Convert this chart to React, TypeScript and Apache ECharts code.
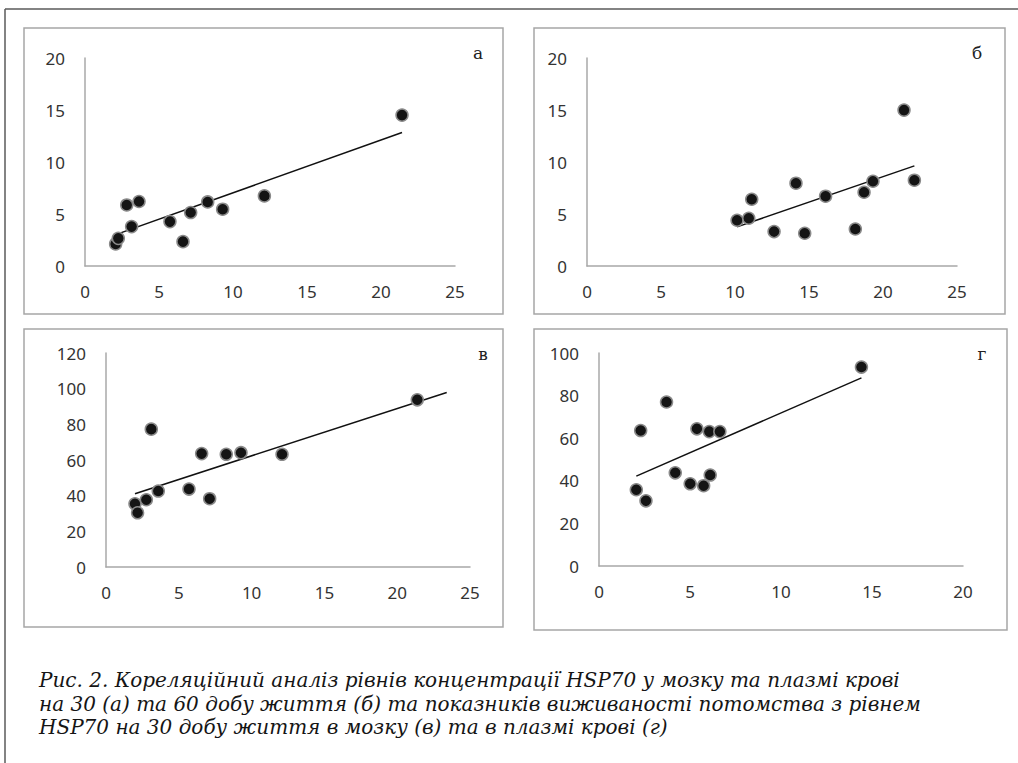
import React, { useEffect, useRef } from "react";
import * as echarts from "echarts";

// Panel а: HSP70 brain vs plasma, 30 days
const aX = [2.07, 2.25, 2.82, 3.15, 3.65, 5.74, 6.62, 7.14, 8.29, 9.3, 12.12, 21.42];
const aY = [2.12, 2.66, 5.87, 3.79, 6.2, 4.27, 2.34, 5.14, 6.16, 5.46, 6.74, 14.51];
const aTrendX = [2.03, 21.42];
const aTrendY = [2.99, 12.84];

// Panel б: 60 days
const bX = [10.14, 10.93, 11.13, 12.64, 14.12, 14.71, 16.12, 18.13, 18.72, 19.32, 21.42, 22.12];
const bY = [4.4, 4.59, 6.42, 3.31, 7.96, 3.15, 6.71, 3.56, 7.09, 8.15, 14.99, 8.25];
const bTrendX = [10.14, 22.12];
const bTrendY = [3.76, 9.63];

// Panel в: survival vs HSP70 brain
const cX = [1.99, 2.17, 2.77, 3.11, 3.59, 5.7, 6.57, 7.12, 8.26, 9.27, 12.09, 21.38];
const cY = [35.4, 30.4, 37.7, 77.3, 42.6, 43.7, 63.6, 38.3, 63.2, 64.1, 63.2, 93.75];
const cTrendX = [1.99, 23.4];
const cTrendY = [41.1, 97.9];

// Panel г: survival vs HSP70 plasma
const dX = [2.05, 2.29, 2.58, 3.71, 4.19, 5.01, 5.38, 5.75, 6.06, 6.11, 6.64, 14.42];
const dY = [35.8, 63.6, 30.6, 77.0, 43.75, 38.6, 64.4, 37.7, 63.1, 42.7, 63.1, 93.4];
const dTrendX = [2.05, 14.42];
const dTrendY = [42.2, 88.3];

const panelLabels = ["а", "б", "в", "г"];
const xMax = [25, 25, 25, 20];
const yMax = [20, 20, 120, 100];
const yStep = [5, 5, 20, 20];

const captionLines = [
  "Рис. 2. Кореляційний аналіз рівнів концентрації HSP70 у мозку та плазмі крові",
  "на 30 (а) та 60 добу життя (б) та показників виживаності потомства з рівнем",
  "HSP70 на 30 добу життя в мозку (в) та в плазмі крові (г)",
];

const zip = (xs: number[], ys: number[]) => xs.map((x, i) => [x, ys[i]]);

export default function App() {
  const ref = useRef<HTMLDivElement>(null);
  useEffect(() => {
    if (!ref.current) return;
    const chart = echarts.init(ref.current, null, { renderer: "svg" });
    const grids = [
      { left: 85, top: 58, width: 370, height: 208 },
      { left: 587, top: 58, width: 370, height: 208 },
      { left: 106, top: 353, width: 364, height: 214 },
      { left: 599, top: 353, width: 364, height: 213 },
    ];
    const boxes = [
      { x: 24, y: 28, w: 479, h: 286 },
      { x: 534, y: 28, w: 471, h: 286 },
      { x: 24, y: 329, w: 479, h: 298 },
      { x: 534, y: 329, w: 473, h: 301 },
    ];
    const labelPos = [
      [478, 53],
      [977, 53],
      [483, 354],
      [982, 354],
    ];
    const pts = [zip(aX, aY), zip(bX, bY), zip(cX, cY), zip(dX, dY)];
    const trends = [zip(aTrendX, aTrendY), zip(bTrendX, bTrendY), zip(cTrendX, cTrendY), zip(dTrendX, dTrendY)];
    const axisLabelStyle = { fontFamily: "Noto Sans", fontSize: 17, color: "#333" };
    const axisLine = { show: true, lineStyle: { color: "#a8a8a8", width: 1.5 } };

    const series: any[] = [];
    pts.forEach((p, i) => {
      series.push({
        type: "line",
        xAxisIndex: i,
        yAxisIndex: i,
        data: trends[i],
        showSymbol: false,
        symbol: "none",
        lineStyle: { color: "#111", width: 1.5 },
        z: 2,
      });
      series.push({
        type: "scatter",
        xAxisIndex: i,
        yAxisIndex: i,
        data: p,
        symbolSize: 12,
        itemStyle: { color: "#141414", borderColor: "#8a8a8a", borderWidth: 1.5, opacity: 1 },
        z: 3,
      });
    });

    const graphic: any[] = [
      { type: "line", shape: { x1: 5, y1: 9, x2: 1018, y2: 9 }, style: { stroke: "#5a5a5a", lineWidth: 1.5 } },
      { type: "line", shape: { x1: 5, y1: 9, x2: 5, y2: 763 }, style: { stroke: "#5a5a5a", lineWidth: 1.5 } },
    ];
    boxes.forEach((b) => {
      graphic.push({
        type: "rect",
        shape: { x: b.x, y: b.y, width: b.w, height: b.h },
        style: { fill: "none", stroke: "#a6a6a6", lineWidth: 1.5 },
        z: -1,
      });
    });
    panelLabels.forEach((t, i) => {
      graphic.push({
        type: "text",
        x: labelPos[i][0],
        y: labelPos[i][1],
        style: {
          text: t,
          fontFamily: "'DejaVu Serif', serif",
          fontSize: 17,
          fill: "#222",
          textAlign: "center",
          textVerticalAlign: "middle",
        },
      });
    });
    const capY = [680, 703.5, 727];
    captionLines.forEach((t, i) => {
      graphic.push({
        type: "text",
        x: 39,
        y: capY[i],
        style: {
          text: t,
          fontFamily: "'DejaVu Serif', serif",
          fontStyle: "italic",
          fontSize: 20,
          fill: "#151515",
          textAlign: "left",
          textVerticalAlign: "middle",
        },
      });
    });

    chart.setOption({
      animation: false,
      backgroundColor: "#ffffff",
      grid: grids,
      xAxis: grids.map((_, i) => ({
        type: "value",
        gridIndex: i,
        min: 0,
        max: xMax[i],
        interval: 5,
        axisLine,
        axisTick: { show: false },
        splitLine: { show: false },
        axisLabel: { ...axisLabelStyle, margin: 17 },
      })),
      yAxis: grids.map((_, i) => ({
        type: "value",
        gridIndex: i,
        min: 0,
        max: yMax[i],
        interval: yStep[i],
        axisLine,
        axisTick: { show: false },
        splitLine: { show: false },
        axisLabel: { ...axisLabelStyle, margin: 20 },
      })),
      series,
      graphic,
    });
    return () => chart.dispose();
  }, []);
  return (
    <div
      ref={ref}
      style={{ position: "fixed", left: 0, top: 0, width: 1018, height: 763, background: "#fff" }}
    />
  );
}
